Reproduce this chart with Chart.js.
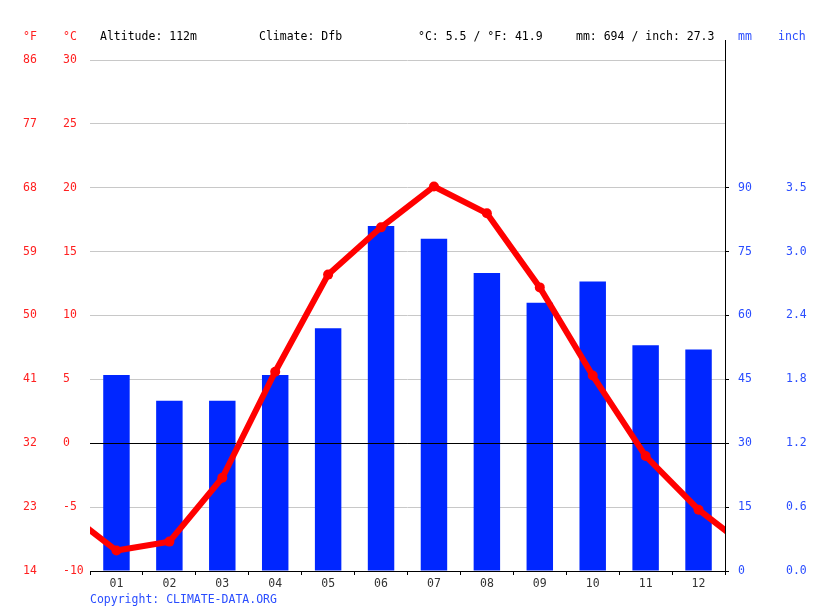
<!DOCTYPE html>
<html>
<head>
<meta charset="utf-8">
<script src="https://cdn.jsdelivr.net/npm/chart.js@4.4.1/dist/chart.umd.min.js"></script>
<style>
  body { margin: 0; background: #fff; }
  #wrap { position: relative; width: 815px; height: 611px; }
  .lbl { position: absolute; font: 11.5px 'DejaVu Sans Mono', monospace; line-height: 14px; white-space: pre; color: #000; }
  .red { color: #ff2020; }
  .blue { color: #2a4dff; }
</style>
</head>
<body>
<div id="wrap">
  <canvas id="chart" width="815" height="611"></canvas>
  <span class="lbl red" style="left:23px;top:29px">°F</span>
  <span class="lbl red" style="left:63px;top:29px">°C</span>
  <span class="lbl" style="left:100px;top:29px">Altitude: 112m</span>
  <span class="lbl" style="left:259px;top:29px">Climate: Dfb</span>
  <span class="lbl" style="left:418px;top:29px">°C: 5.5 / °F: 41.9</span>
  <span class="lbl" style="left:576px;top:29px">mm: 694 / inch: 27.3</span>
  <span class="lbl blue" style="left:738px;top:29px">mm</span>
  <span class="lbl blue" style="left:778px;top:29px">inch</span>
  <span class="lbl blue" style="left:90px;top:592px">Copyright: CLIMATE-DATA.ORG</span>
</div>
<script>
// 데이터
const months = ['01', '02', '03', '04', '05', '06', '07', '08', '09', '10', '11', '12'];
const precipMm = [46, 40, 40, 46, 57, 81, 78, 70, 63, 68, 53, 52];
const tempC = [-8.4, -7.7, -2.7, 5.6, 13.2, 16.9, 20.1, 18.0, 12.2, 5.3, -1.0, -5.2];

// 축 눈금
const cTicks = [-10, -5, 0, 5, 10, 15, 20, 25, 30];
const fLabels = ['14', '23', '32', '41', '50', '59', '68', '77', '86'];
const mmTicks = [0, 15, 30, 45, 60, 75, 90];
const inchLabels = ['0.0', '0.6', '1.2', '1.8', '2.4', '3.0', '3.5'];

const RED = '#ff2020';
const BLUE = '#2a4dff';

Chart.defaults.font.family = "'DejaVu Sans Mono', monospace";
Chart.defaults.font.size = 11.5;

// 막대/선 데이터 (선은 12월-1월이 이어지도록 양 끝에 붙임)
const barData = precipMm.map((v, i) => ({ x: i + 1, y: v }));
const lineData = [{ x: 0, y: tempC[11] }]
  .concat(tempC.map((v, i) => ({ x: i + 1, y: v })))
  .concat([{ x: 13, y: tempC[0] }]);

function setTicks(list) {
  return scale => { scale.ticks = list.map(v => ({ value: v })); };
}

// 0도 선은 막대 위에 다시 그림, 오른쪽 축선은 위로 조금 더 연장
const extras = {
  id: 'extras',
  afterDatasetDraw(chart, args) {
    if (args.meta.type !== 'bar') return;
    const { ctx, chartArea } = chart;
    const y0 = Math.round(chart.scales.y.getPixelForValue(0)) + 0.5;
    ctx.save();
    ctx.strokeStyle = '#000';
    ctx.lineWidth = 1;
    ctx.beginPath();
    ctx.moveTo(chartArea.left, y0);
    ctx.lineTo(chartArea.right, y0);
    ctx.stroke();
    ctx.restore();
  },
  afterDraw(chart) {
    const { ctx, chartArea } = chart;
    const x = Math.round(chartArea.right) + 0.5;
    ctx.save();
    ctx.strokeStyle = '#000';
    ctx.lineWidth = 1;
    ctx.beginPath();
    ctx.moveTo(x, chartArea.top - 20);
    ctx.lineTo(x, chartArea.top);
    ctx.stroke();
    ctx.restore();
  }
};

new Chart(document.getElementById('chart'), {
  type: 'bar',
  data: {
    datasets: [
      {
        type: 'line',
        data: lineData,
        xAxisID: 'x',
        yAxisID: 'y',
        borderColor: '#ff0000',
        backgroundColor: '#ff0000',
        borderWidth: 6,
        pointRadius: 5,
        pointBorderWidth: 0,
        tension: 0,
        clip: 0,
        order: 1
      },
      {
        type: 'bar',
        data: barData,
        xAxisID: 'x',
        yAxisID: 'mm',
        backgroundColor: '#0026ff',
        barPercentage: 0.5,
        categoryPercentage: 1,
        order: 2
      }
    ]
  },
  options: {
    responsive: false,
    animation: false,
    layout: { padding: { left: 23, top: 60, right: 0, bottom: 0 } },
    plugins: { legend: { display: false }, tooltip: { enabled: false } },
    scales: {
      x: {
        type: 'linear',
        position: 'bottom',
        offset: false,
        min: 0.5,
        max: 12.5,
        afterBuildTicks: setTicks(months.map((m, i) => i + 1)),
        afterFit: s => { s.height = 40; },
        grid: { offset: true, drawOnChartArea: false, color: '#000', tickLength: 4 },
        border: { color: '#000' },
        ticks: { callback: (v, i) => months[i], color: '#333', padding: 2, autoSkip: false, maxRotation: 0 }
      },
      y: {
        position: 'left',
        weight: 0,
        min: -10,
        max: 30,
        afterBuildTicks: setTicks(cTicks),
        afterFit: s => { s.width = 27; },
        grid: {
          drawTicks: false,
          color: c => (c.tick && (c.tick.value === 0 || c.tick.value === -10)) ? '#000' : '#c8c8c8'
        },
        border: { display: false },
        ticks: { crossAlign: 'far', padding: 0, color: RED, callback: v => String(v) }
      },
      yF: {
        position: 'left',
        weight: 1,
        min: -10,
        max: 30,
        afterBuildTicks: setTicks(cTicks),
        afterFit: s => { s.width = 40; },
        grid: { display: false },
        border: { display: false },
        ticks: { crossAlign: 'far', padding: 0, color: RED, callback: (v, i) => fLabels[i] }
      },
      mm: {
        position: 'right',
        weight: 0,
        min: 0,
        max: 120,
        afterBuildTicks: setTicks(mmTicks),
        afterFit: s => { s.width = 53; },
        grid: { drawOnChartArea: false, color: '#000', tickLength: 4 },
        border: { color: '#000' },
        ticks: { padding: 9, color: BLUE, callback: v => String(v) }
      },
      inch: {
        position: 'right',
        weight: 1,
        min: 0,
        max: 120,
        afterBuildTicks: setTicks(mmTicks),
        afterFit: s => { s.width = 37; },
        grid: { display: false },
        border: { display: false },
        ticks: { padding: 0, color: BLUE, callback: (v, i) => inchLabels[i] }
      }
    }
  },
  plugins: [extras]
});
</script>
</body>
</html>
